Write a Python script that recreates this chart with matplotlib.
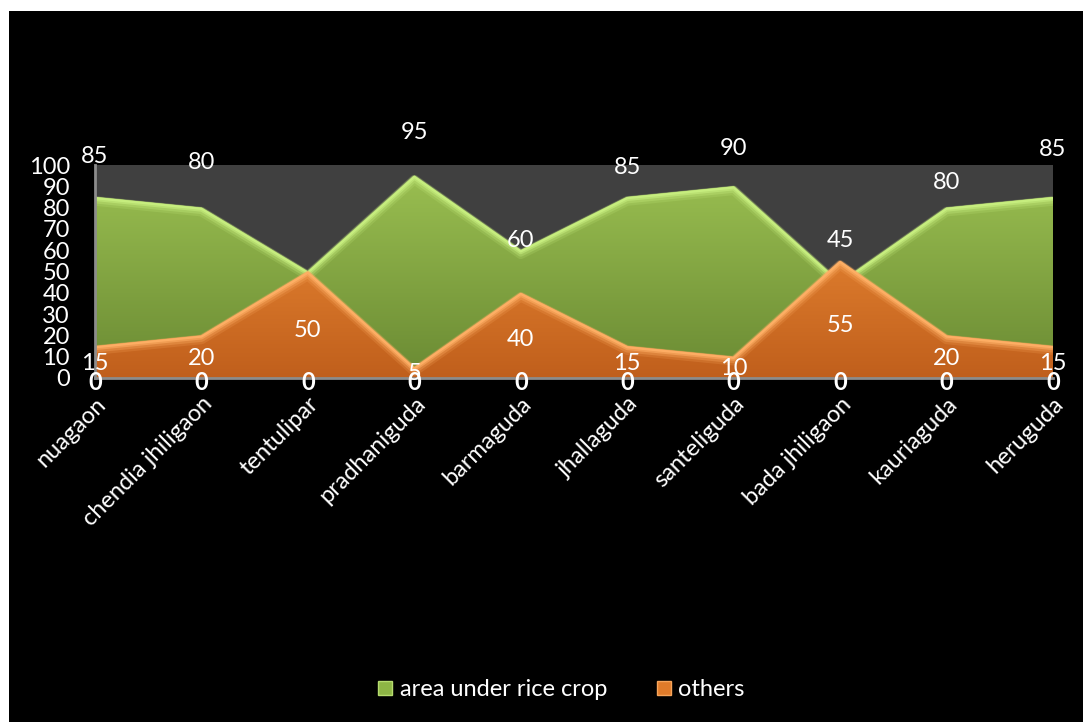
import numpy as np
import matplotlib
matplotlib.use("Agg")
import matplotlib.pyplot as plt
from matplotlib.patches import Polygon, Rectangle
from matplotlib.colors import LinearSegmentedColormap
from matplotlib.lines import Line2D
from matplotlib import transforms

plt.rcParams['font.family'] = ['Lato', 'DejaVu Sans']

villages = ["nuagaon", "chendia jhiligaon", "tentulipar", "pradhaniguda",
            "barmaguda", "jhallaguda", "santeliguda", "bada jhiligaon",
            "kauriaguda", "heruguda"]
rice_area = [85, 80, 50, 95, 60, 85, 90, 45, 80, 85]
others = [15, 20, 50, 5, 40, 15, 10, 55, 20, 15]
baseline = [0, 0, 0, 0, 0, 0, 0, 0, 0, 0]
series_names = ["area under rice crop", "others"]
y_ticks = list(range(0, 101, 10))

# label lift above the rice curve (pixels); None = label hidden
rice_label_lift = [40, 45, None, 43, 10, 29, 38, 42, 25, 47]

FS = 17
W, H = 1083, 722
fig = plt.figure(figsize=(W / 100, H / 100), dpi=100, facecolor="white")
fig.patches.append(Rectangle((9 / W, 0), 1 - 9 / W, 1 - 11 / H,
                             transform=fig.transFigure, facecolor="black",
                             edgecolor="none", zorder=-10))

ax = fig.add_axes([95 / W, 1 - 378 / H, (1053 - 95) / W, (378 - 165) / H])
ax.set_facecolor("#404040")
x = np.arange(len(villages))


def shaded_area(xs, ys, top, bottom, edge, z):
    verts = [(xs[0], 0)] + list(zip(xs, ys)) + [(xs[-1], 0)]
    poly = Polygon(verts, closed=True, facecolor="none", edgecolor="none",
                   transform=ax.transData)
    ax.add_patch(poly)
    cmap = LinearSegmentedColormap.from_list("shade", [bottom, top])
    grad = np.linspace(0, 1, 256).reshape(-1, 1)
    im = ax.imshow(grad, extent=[xs[0], xs[-1], 0, 100], origin="lower",
                   aspect="auto", cmap=cmap, zorder=z, interpolation="bicubic")
    im.set_clip_path(poly)
    # bevelled rim just inside the top edge
    for dy, lw, a in [(-4, 7, 0.18), (-3, 5, 0.3), (-2, 3, 0.55), (-1.2, 1.6, 0.9)]:
        tr = transforms.offset_copy(ax.transData, fig=fig, y=dy, units="dots")
        ax.plot(xs, ys, color=edge, lw=lw, alpha=a, zorder=z + 0.1,
                transform=tr, solid_joinstyle="round", solid_capstyle="butt")


shaded_area(x, rice_area, "#9cc152", "#6a8a33", "#c8ef80", 2)
shaded_area(x, others, "#f3923a", "#c05f1c", "#ffb066", 3)

ax.set_xlim(0, len(villages) - 1)
ax.set_ylim(0, 100)
ax.set_yticks(y_ticks)
ax.set_yticklabels([str(v) for v in y_ticks], color="white", fontsize=FS)
ax.tick_params(axis="y", length=0, pad=18)
ax.set_xticks(x)
ax.set_xticklabels(villages, rotation=45, ha="right", rotation_mode="anchor",
                   color="white", fontsize=FS)
ax.tick_params(axis="x", length=0, pad=11)
for side in ["top", "right"]:
    ax.spines[side].set_visible(False)
for side in ["left", "bottom"]:
    ax.spines[side].set_color("#8c8c8c")
    ax.spines[side].set_linewidth(2)
    ax.spines[side].set_zorder(5)

# value labels
for xi, v, lift in zip(x, rice_area, rice_label_lift):
    if lift is None:
        continue
    ax.annotate(str(v), (xi, v), xytext=(0, lift), textcoords="offset pixels",
                ha="center", va="center", color="white", fontsize=FS,
                annotation_clip=False, zorder=10)
for xi, v in zip(x, others):
    ax.annotate(str(v), (xi, v * 0.45), ha="center", va="center",
                color="white", fontsize=FS, annotation_clip=False, zorder=10)
for xi, v in zip(x, baseline):
    ax.annotate(str(v), (xi, v), xytext=(0, -4), textcoords="offset pixels",
                ha="center", va="center", color="white", fontsize=FS,
                fontweight="bold", annotation_clip=False, zorder=11)

handles = [
    Line2D([], [], marker="s", linestyle="none", markersize=10,
           markerfacecolor="#8db545", markeredgecolor="#b6dc6e"),
    Line2D([], [], marker="s", linestyle="none", markersize=10,
           markerfacecolor="#e07b2a", markeredgecolor="#f7a45a"),
]
fig.legend(handles, series_names, loc="center",
           bbox_to_anchor=(560 / W, 1 - 690 / H), ncol=2, frameon=False,
           fontsize=FS, labelcolor="white", handletextpad=0.2,
           columnspacing=2.0, handlelength=0.8)

fig.savefig("out.png", dpi=100, facecolor=fig.get_facecolor())
